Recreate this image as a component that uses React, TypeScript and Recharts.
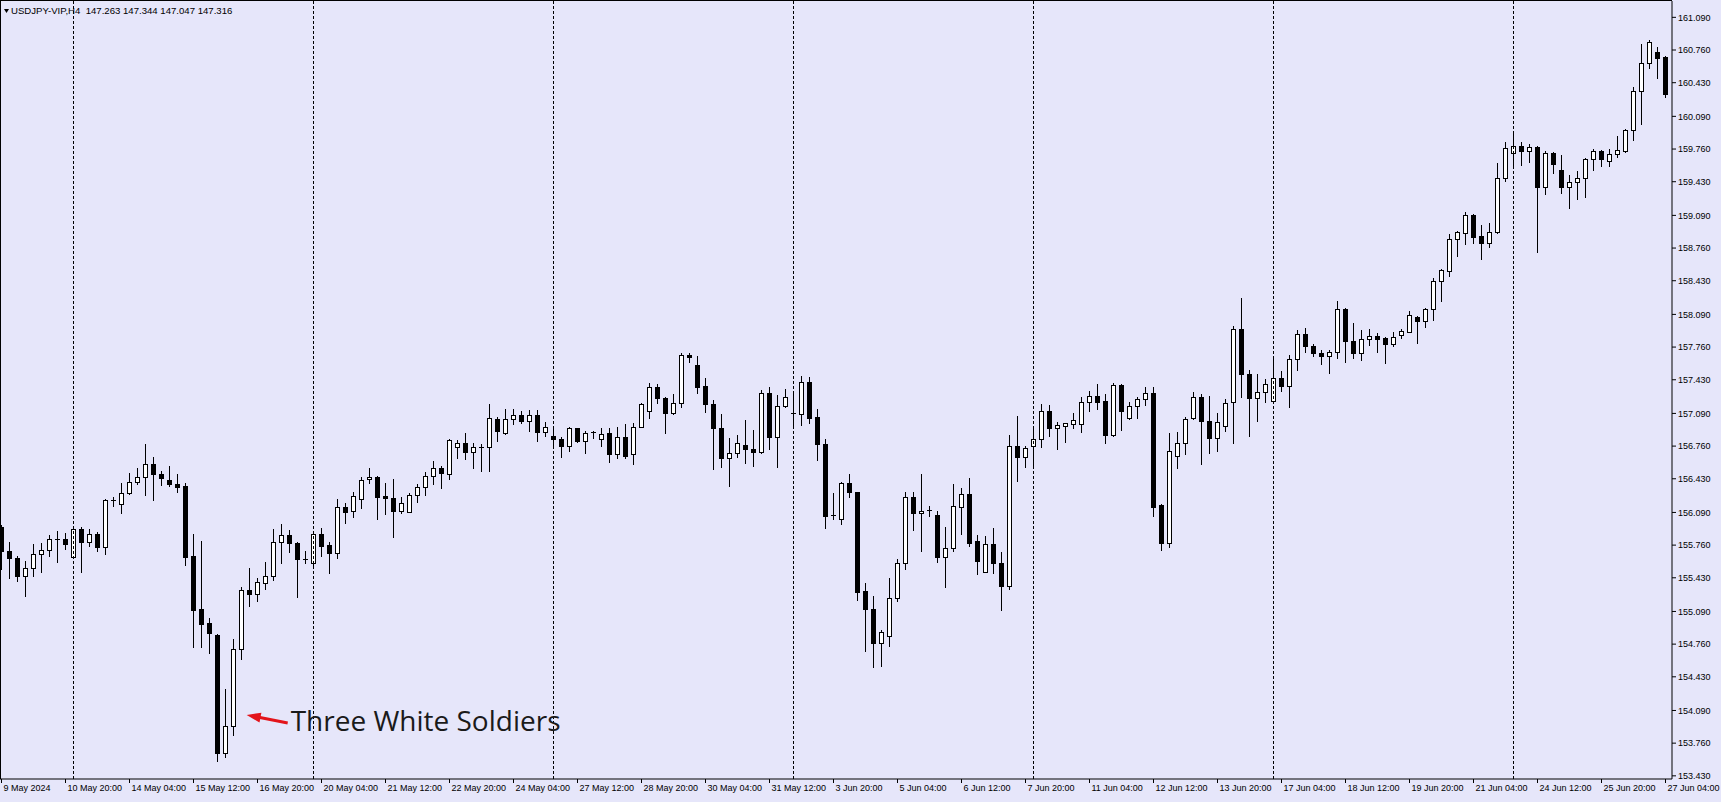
import { ComposedChart, Bar, XAxis, YAxis, ReferenceLine, ReferenceDot } from 'recharts';

// USDJPY H4 candles, 9 May 12:00 -> 27 Jun 04:00 (bar index = position)
const opens = [
  155.940, 155.701, 155.634, 155.449, 155.527, 155.668, 155.708, 155.815, 155.822, 155.644,
  155.920, 155.795, 155.870, 155.745, 156.206, 156.173, 156.284, 156.401, 156.445, 156.580,
  156.479, 156.418, 156.378, 156.358, 155.651, 155.116, 154.971, 154.853, 153.659, 153.934,
  154.709, 155.304, 155.267, 155.375, 155.449, 155.795, 155.863, 155.779, 155.624, 155.583,
  155.870, 155.762, 155.678, 156.143, 156.105, 156.226, 156.425, 156.445, 156.257, 156.233,
  156.108, 156.098, 156.267, 156.344, 156.461, 156.536, 156.476, 156.748, 156.789, 156.704,
  156.744, 156.748, 157.031, 156.890, 157.031, 157.071, 157.017, 157.071, 156.906, 156.862,
  156.832, 156.764, 156.940, 156.815, 156.900, 156.829, 156.890, 156.678, 156.855, 156.678,
  156.956, 157.115, 157.360, 157.243, 157.092, 157.193, 157.677, 157.579, 157.367, 157.183,
  156.940, 156.637, 156.688, 156.769, 156.731, 156.698, 157.300, 156.849, 157.168, 157.092,
  157.082, 157.405, 157.051, 156.779, 156.062, 156.021, 156.385, 156.294, 155.297, 155.113,
  154.775, 154.843, 155.224, 155.577, 156.243, 156.082, 156.118, 156.065, 155.644, 155.729,
  156.149, 156.277, 155.802, 155.492, 155.772, 155.577, 155.351, 156.764, 156.653, 156.764,
  156.829, 157.118, 156.946, 156.966, 156.987, 156.981, 157.209, 157.266, 157.216, 156.873,
  157.377, 157.041, 157.168, 157.233, 157.294, 156.166, 155.785, 156.664, 156.789, 157.041,
  157.253, 157.017, 156.839, 156.963, 157.203, 157.940, 157.485, 157.243, 157.304, 157.219,
  157.445, 157.370, 157.637, 157.889, 157.774, 157.703, 157.673, 157.708, 158.142, 157.822,
  157.697, 157.839, 157.872, 157.849, 157.788, 157.882, 157.916, 158.061, 158.024, 158.142,
  158.427, 158.531, 158.849, 158.909, 159.094, 158.882, 158.814, 158.919, 159.470, 159.723,
  159.791, 159.743, 159.777, 159.380, 159.717, 159.545, 159.380, 159.424, 159.464, 159.656,
  159.740, 159.639, 159.707, 159.743, 159.952, 160.346, 160.626, 160.737, 160.686,
];

const highs = [
  155.964, 155.789, 155.648, 155.600, 155.769, 155.779, 155.863, 155.903, 155.880, 155.947,
  155.947, 155.923, 155.896, 156.226, 156.250, 156.385, 156.492, 156.536, 156.782, 156.653,
  156.509, 156.560, 156.479, 156.391, 155.873, 155.802, 155.022, 154.863, 154.308, 154.810,
  155.341, 155.527, 155.432, 155.587, 155.923, 155.971, 155.913, 155.789, 155.704, 155.880,
  155.930, 155.789, 156.226, 156.183, 156.294, 156.451, 156.536, 156.461, 156.385, 156.425,
  156.243, 156.284, 156.378, 156.496, 156.610, 156.560, 156.829, 156.822, 156.896, 156.789,
  156.782, 157.186, 157.057, 157.135, 157.132, 157.115, 157.125, 157.125, 157.001, 156.963,
  156.849, 156.956, 156.946, 156.913, 156.913, 156.940, 156.940, 156.950, 156.981, 156.991,
  157.199, 157.401, 157.387, 157.259, 157.283, 157.697, 157.697, 157.670, 157.445, 157.226,
  157.082, 156.839, 156.870, 157.024, 156.923, 157.327, 157.354, 157.276, 157.337, 157.320,
  157.468, 157.458, 157.132, 156.832, 156.284, 156.401, 156.479, 156.297, 155.375, 155.247,
  154.904, 155.426, 155.621, 156.294, 156.294, 156.479, 156.156, 156.108, 155.947, 156.378,
  156.340, 156.441, 155.863, 155.853, 155.930, 155.688, 156.873, 157.064, 156.761, 156.956,
  157.183, 157.175, 157.007, 156.997, 157.092, 157.253, 157.320, 157.384, 157.286, 157.395,
  157.387, 157.209, 157.253, 157.354, 157.360, 156.176, 156.890, 156.900, 157.057, 157.304,
  157.286, 157.266, 157.092, 157.233, 157.973, 158.253, 157.529, 157.485, 157.438, 157.663,
  157.519, 157.680, 157.933, 157.950, 157.791, 157.731, 157.731, 158.226, 158.152, 158.006,
  157.933, 157.943, 157.899, 157.865, 157.916, 157.943, 158.125, 158.077, 158.152, 158.455,
  158.549, 158.902, 158.935, 159.127, 159.104, 158.993, 159.010, 159.616, 159.828, 159.919,
  159.828, 159.811, 159.794, 159.743, 159.727, 159.700, 159.498, 159.538, 159.666, 159.757,
  159.750, 159.760, 159.892, 159.962, 160.389, 160.820, 160.861, 160.787, 160.702,
];

const lows = [
  155.517, 155.426, 155.395, 155.250, 155.452, 155.492, 155.654, 155.593, 155.721, 155.628,
  155.492, 155.755, 155.704, 155.671, 156.156, 156.088, 156.277, 156.378, 156.267, 156.216,
  156.368, 156.361, 156.300, 155.560, 154.735, 154.735, 154.674, 153.584, 153.624, 153.843,
  154.608, 155.149, 155.199, 155.315, 155.408, 155.583, 155.694, 155.240, 155.577, 155.527,
  155.654, 155.482, 155.628, 155.987, 156.042, 156.132, 156.385, 156.021, 156.072, 155.840,
  156.088, 156.092, 156.199, 156.267, 156.378, 156.334, 156.428, 156.643, 156.630, 156.542,
  156.512, 156.512, 156.815, 156.880, 156.981, 156.991, 156.916, 156.815, 156.865, 156.738,
  156.653, 156.714, 156.805, 156.694, 156.839, 156.764, 156.603, 156.643, 156.643, 156.577,
  156.950, 157.047, 157.193, 156.890, 157.082, 157.158, 157.613, 157.294, 157.108, 156.526,
  156.552, 156.361, 156.653, 156.593, 156.563, 156.688, 156.731, 156.552, 157.158, 156.974,
  156.974, 156.991, 156.620, 155.937, 156.027, 155.971, 156.243, 155.207, 154.695, 154.527,
  154.543, 154.745, 155.199, 155.520, 155.913, 155.704, 156.058, 155.587, 155.341, 155.704,
  155.873, 155.755, 155.466, 155.492, 155.476, 155.106, 155.315, 156.411, 156.552, 156.552,
  156.754, 156.862, 156.731, 156.805, 156.940, 156.906, 157.115, 157.132, 156.795, 156.865,
  156.923, 157.034, 157.041, 157.175, 156.058, 155.711, 155.745, 156.536, 156.681, 157.031,
  156.577, 156.688, 156.714, 156.916, 156.789, 157.259, 156.865, 157.017, 157.209, 157.219,
  157.320, 157.152, 157.529, 157.714, 157.673, 157.589, 157.502, 157.653, 157.613, 157.653,
  157.630, 157.781, 157.714, 157.596, 157.774, 157.855, 157.909, 157.804, 157.966, 158.034,
  158.226, 158.481, 158.683, 158.801, 158.814, 158.650, 158.774, 158.909, 159.440, 159.581,
  159.599, 159.632, 158.723, 159.306, 159.521, 159.319, 159.168, 159.255, 159.279, 159.548,
  159.592, 159.592, 159.683, 159.733, 159.851, 160.010, 160.581, 160.480, 160.288,
];

const closes = [
  155.704, 155.628, 155.452, 155.527, 155.668, 155.708, 155.819, 155.822, 155.769, 155.920,
  155.795, 155.870, 155.745, 156.216, 156.213, 156.284, 156.401, 156.445, 156.580, 156.476,
  156.435, 156.378, 156.350, 155.644, 155.106, 154.964, 154.876, 153.659, 153.934, 154.709,
  155.304, 155.264, 155.391, 155.449, 155.795, 155.860, 155.779, 155.617, 155.617, 155.870,
  155.755, 155.678, 156.143, 156.098, 156.260, 156.418, 156.445, 156.250, 156.233, 156.108,
  156.183, 156.267, 156.344, 156.461, 156.536, 156.486, 156.819, 156.789, 156.704, 156.748,
  156.751, 157.041, 156.916, 157.031, 157.071, 157.017, 157.071, 156.906, 156.956, 156.829,
  156.764, 156.940, 156.812, 156.890, 156.893, 156.886, 156.678, 156.855, 156.660, 156.956,
  157.183, 157.360, 157.249, 157.092, 157.193, 157.677, 157.657, 157.354, 157.183, 156.940,
  156.637, 156.688, 156.795, 156.728, 156.698, 157.300, 156.849, 157.168, 157.253, 157.085,
  157.405, 157.047, 156.779, 156.058, 156.055, 156.385, 156.294, 155.290, 155.113, 154.775,
  154.886, 155.224, 155.577, 156.243, 156.088, 156.108, 156.112, 155.644, 155.729, 156.156,
  156.274, 155.785, 155.603, 155.772, 155.577, 155.351, 156.764, 156.653, 156.738, 156.829,
  157.118, 156.946, 156.974, 156.991, 157.024, 157.209, 157.266, 157.209, 156.873, 157.377,
  157.118, 157.168, 157.236, 157.294, 156.149, 155.785, 156.714, 156.789, 157.031, 157.253,
  157.017, 156.839, 157.007, 157.193, 157.940, 157.485, 157.243, 157.304, 157.384, 157.445,
  157.370, 157.637, 157.889, 157.774, 157.697, 157.673, 157.708, 158.142, 157.825, 157.697,
  157.839, 157.872, 157.842, 157.788, 157.865, 157.926, 158.084, 158.027, 158.142, 158.427,
  158.539, 158.849, 158.919, 159.094, 158.875, 158.814, 158.919, 159.464, 159.767, 159.791,
  159.743, 159.777, 159.380, 159.717, 159.606, 159.380, 159.424, 159.464, 159.656, 159.740,
  159.656, 159.707, 159.750, 159.952, 160.346, 160.626, 160.838, 160.676, 160.316,
];

const xTickBars = [0, 8, 16, 24, 32, 40, 48, 56, 64, 72, 80, 88, 96, 104, 112, 120, 128, 136, 144, 152, 160, 168, 176, 184, 192, 200, 208];
const xTickLabels = [
  '9 May 2024', '10 May 20:00', '14 May 04:00', '15 May 12:00', '16 May 20:00', '20 May 04:00',
  '21 May 12:00', '22 May 20:00', '24 May 04:00', '27 May 12:00', '28 May 20:00', '30 May 04:00',
  '31 May 12:00', '3 Jun 20:00', '5 Jun 04:00', '6 Jun 12:00', '7 Jun 20:00', '11 Jun 04:00',
  '12 Jun 12:00', '13 Jun 20:00', '17 Jun 04:00', '18 Jun 12:00', '19 Jun 20:00', '21 Jun 04:00',
  '24 Jun 12:00', '25 Jun 20:00', '27 Jun 04:00',
];
const yTickLabels = [
  '153.430', '153.760', '154.090', '154.430', '154.760', '155.090', '155.430', '155.760',
  '156.090', '156.430', '156.760', '157.090', '157.430', '157.760', '158.090', '158.430',
  '158.760', '159.090', '159.430', '159.760', '160.090', '160.430', '160.760', '161.090',
];
// Monday 00:00 bars (weekly separators)
const separatorBars = [9, 39, 69, 99, 129, 159, 189];

const note = { bar: 30.65, price: 154.045, text: 'Three White Soldiers' };

const BG = '#E6E6FA';
const AXIS_FONT = '"Liberation Sans", Arial, sans-serif';

const candles = opens.map((o, i) => ({
  i,
  o,
  h: highs[i],
  l: lows[i],
  c: closes[i],
  range: [lows[i], highs[i]],
}));

function Candle(props: any) {
  const { x, y, width, height, payload } = props;
  if (x == null || payload == null) return null;
  const { o, h, l, c } = payload;
  const top = Math.min(y, y + height);
  const span = Math.abs(height);
  const yOf = (p: number) => (h === l ? top : top + ((h - p) / (h - l)) * span);
  const px = Math.floor(x + width / 2);
  const yo = Math.round(yOf(o));
  const yc = Math.round(yOf(c));
  const bt = Math.min(yo, yc);
  const bb = Math.max(yo, yc);
  return (
    <g>
      <line x1={px + 0.5} x2={px + 0.5} y1={Math.round(top)} y2={Math.round(top + span) + 1} stroke="#000" />
      {bb - bt < 2 ? (
        <line x1={px - 2} x2={px + 3} y1={bt + 0.5} y2={bt + 0.5} stroke="#000" />
      ) : (
        <rect x={px - 1.5} y={bt + 0.5} width={4} height={bb - bt} fill={c >= o ? '#fff' : '#000'} stroke="#000" />
      )}
    </g>
  );
}

function XTick(props: any) {
  const { x, y, payload } = props;
  const k = xTickBars.indexOf(payload.value);
  return (
    <text x={x + 2} y={y} dy="0.71em" fontSize={9} fontFamily={AXIS_FONT} fill="#000">
      {xTickLabels[k]}
    </text>
  );
}

function NoteArrow(props: any) {
  const { cx, cy } = props;
  if (cx == null) return null;
  return (
    <g>
      <line x1={cx + 41} y1={cy + 8} x2={cx + 12} y2={cy + 2.3} stroke="#E3141B" strokeWidth={3} />
      <polygon points={`${cx},${cy} ${cx + 14.7},${cy - 2.2} ${cx + 12.8},${cy + 7.6}`} fill="#E3141B" />
      <text x={cx + 44} y={cy + 16} fontSize={28} fontFamily='"Open Sans", sans-serif' fill="#1a1a1a">
        {note.text}
      </text>
    </g>
  );
}

export default function App() {
  return (
    <div style={{ position: 'relative', width: 1721, height: 802, background: BG, overflow: 'hidden' }}>
      <style>{'body{margin:0}'}</style>
      <div
        style={{
          position: 'absolute', left: 0, top: 0, width: 1672, height: 779,
          borderLeft: '1px solid #000', borderTop: '1px solid #000', boxSizing: 'border-box',
        }}
      />
      <div
        style={{
          position: 'absolute', left: 4, top: 5, fontSize: 9.6, fontFamily: AXIS_FONT,
          color: '#000', whiteSpace: 'pre', lineHeight: '11px',
        }}
      >
        <svg width={5} height={4} style={{ marginRight: 2, verticalAlign: 'middle' }}>
          <polygon points="0,0 5,0 2.5,4" fill="#000" />
        </svg>
        {'USDJPY-VIP,H4  147.263 147.344 147.047 147.316'}
      </div>
      <div style={{ position: 'absolute', left: 0, top: 0 }}>
        <ComposedChart
          width={1721}
          height={802}
          data={candles}
          margin={{ top: 1, right: 0, bottom: 0, left: 0 }}
        >
          <XAxis
            type="number"
            dataKey="i"
            domain={[-0.1875, 208.8125]}
            allowDataOverflow
            ticks={xTickBars}
            interval={0}
            height={23}
            tickSize={4}
            tickMargin={2}
            axisLine={{ stroke: '#000' }}
            tickLine={{ stroke: '#000' }}
            tick={<XTick />}
          />
          <YAxis
            orientation="right"
            type="number"
            domain={[153.398, 161.255]}
            allowDataOverflow
            ticks={yTickLabels.map(Number)}
            interval={0}
            width={49}
            tickSize={4}
            tickMargin={2}
            axisLine={{ stroke: '#000' }}
            tickLine={{ stroke: '#000' }}
            tick={{ fill: '#000', fontSize: 9, fontFamily: AXIS_FONT }}
            tickFormatter={(v: number) => v.toFixed(3)}
          />
          {separatorBars.map((b) => (
            <ReferenceLine key={b} x={b} stroke="#000" strokeDasharray="3 2" />
          ))}
          <Bar dataKey="range" barSize={5} shape={Candle} isAnimationActive={false} />
          <ReferenceDot x={note.bar} y={note.price} r={0} shape={NoteArrow} />
        </ComposedChart>
      </div>
    </div>
  );
}
